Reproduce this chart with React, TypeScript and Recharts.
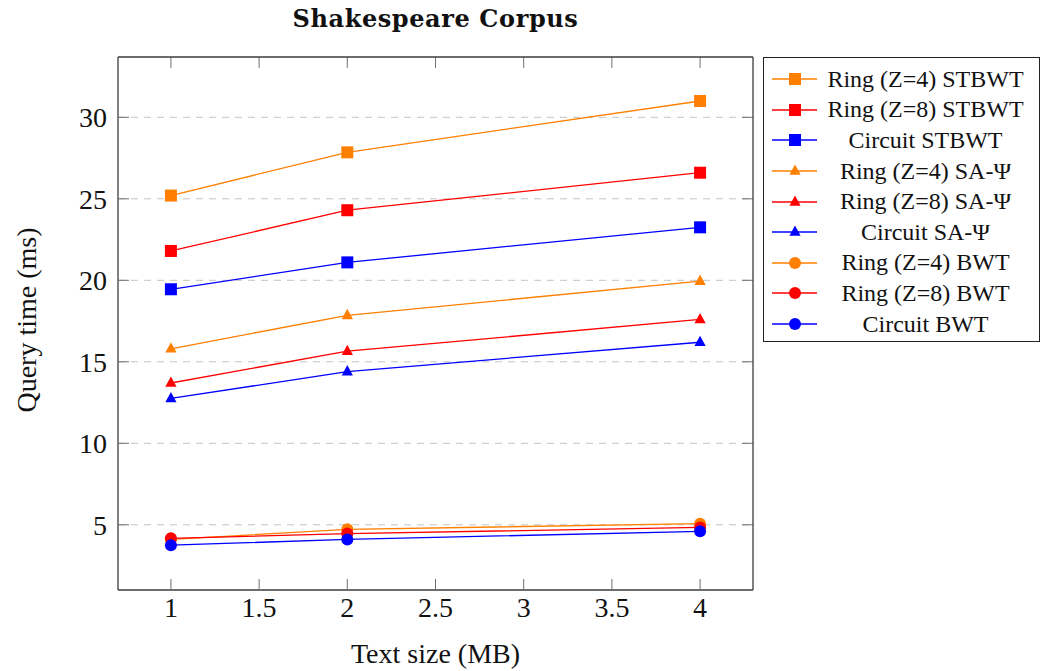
import { LineChart, Line, XAxis, YAxis, CartesianGrid, Legend, ReferenceLine } from 'recharts'

// query times (ms) per text size (MB)
const textSizes = [1, 2, 4]
const xTicks = [1, 1.5, 2, 2.5, 3, 3.5, 4]
const yTicks = [5, 10, 15, 20, 25, 30]

const ringZ4Stbwt = [25.2, 27.85, 31.0]
const ringZ8Stbwt = [21.8, 24.3, 26.6]
const circuitStbwt = [19.45, 21.1, 23.25]
const ringZ4SaPsi = [15.8, 17.85, 19.95]
const ringZ8SaPsi = [13.7, 15.65, 17.6]
const circuitSaPsi = [12.75, 14.4, 16.2]
const ringZ4Bwt = [4.1, 4.72, 5.07]
const ringZ8Bwt = [4.17, 4.46, 4.84]
const circuitBwt = [3.75, 4.1, 4.6]

type Shape = 'square' | 'triangle' | 'circle'

const ORANGE = '#ff7f00'
const RED = '#ff0000'
const BLUE = '#0000ff'

const series: { key: string; name: string; color: string; shape: Shape; values: number[] }[] = [
  { key: 'r4stbwt', name: 'Ring (Z=4) STBWT', color: ORANGE, shape: 'square', values: ringZ4Stbwt },
  { key: 'r8stbwt', name: 'Ring (Z=8) STBWT', color: RED, shape: 'square', values: ringZ8Stbwt },
  { key: 'cstbwt', name: 'Circuit STBWT', color: BLUE, shape: 'square', values: circuitStbwt },
  { key: 'r4sa', name: 'Ring (Z=4) SA-Ψ', color: ORANGE, shape: 'triangle', values: ringZ4SaPsi },
  { key: 'r8sa', name: 'Ring (Z=8) SA-Ψ', color: RED, shape: 'triangle', values: ringZ8SaPsi },
  { key: 'csa', name: 'Circuit SA-Ψ', color: BLUE, shape: 'triangle', values: circuitSaPsi },
  { key: 'r4bwt', name: 'Ring (Z=4) BWT', color: ORANGE, shape: 'circle', values: ringZ4Bwt },
  { key: 'r8bwt', name: 'Ring (Z=8) BWT', color: RED, shape: 'circle', values: ringZ8Bwt },
  { key: 'cbwt', name: 'Circuit BWT', color: BLUE, shape: 'circle', values: circuitBwt },
]

const data = textSizes.map((x, i) => {
  const row: Record<string, number> = { x }
  series.forEach((s) => {
    row[s.key] = s.values[i]
  })
  return row
})

const FONT = '"Liberation Serif", "Times New Roman", serif'
const AXIS = '#3c3c3c'
const TICK = '#707070'
const X_DOMAIN: [number, number] = [0.7, 4.3]
const Y_DOMAIN: [number, number] = [1, 33.7]
// inner tick length on the mirrored (top / right) sides, in axis units (~11px)
const TOP_TICK = 0.67
const RIGHT_TICK = 0.062

function Marker({ shape, color, cx, cy }: { shape: Shape; color: string; cx: number; cy: number }) {
  if (shape === 'square') {
    return <rect x={cx - 6} y={cy - 6} width={12} height={12} fill={color} />
  }
  if (shape === 'triangle') {
    return (
      <polygon
        points={`${cx},${cy - 6.5} ${cx - 5.6},${cy + 3.8} ${cx + 5.6},${cy + 3.8}`}
        fill={color}
      />
    )
  }
  return <circle cx={cx} cy={cy} r={6} fill={color} />
}

function makeDot(shape: Shape, color: string) {
  return (props: any) => {
    const { cx, cy, index } = props
    if (cx == null || cy == null) return <g key={`d-${index}`} />
    return (
      <g key={`d-${index}`}>
        <Marker shape={shape} color={color} cx={cx} cy={cy} />
      </g>
    )
  }
}

function LegendBox() {
  return (
    <div
      style={{
        width: 277,
        height: 285,
        boxSizing: 'border-box',
        border: '1px solid #222',
        background: '#fff',
        paddingTop: 6,
        fontFamily: FONT,
      }}
    >
      {series.map((s) => (
        <div key={s.key} style={{ display: 'flex', alignItems: 'center', height: 30.6 }}>
          <svg width={58} height={30} style={{ flex: 'none' }}>
            <line x1={8} x2={53} y1={15} y2={15} stroke={s.color} strokeWidth={1.3} />
            <Marker shape={s.shape} color={s.color} cx={31} cy={15} />
          </svg>
          <span style={{ width: 207, textAlign: 'center', fontSize: 24, color: '#111', whiteSpace: 'nowrap' }}>
            {s.name}
          </span>
        </div>
      ))}
    </div>
  )
}

export default function App() {
  return (
    <div
      style={{
        position: 'absolute',
        left: 0,
        top: 0,
        width: 1041,
        height: 671,
        background: '#fff',
        fontFamily: FONT,
      }}
    >
      <div
        style={{
          position: 'absolute',
          left: 118,
          width: 635,
          top: 4,
          textAlign: 'center',
          fontFamily: '"DejaVu Serif", serif',
          fontWeight: 'bold',
          fontSize: 24,
          letterSpacing: 0.6,
          lineHeight: '30px',
          color: '#111',
        }}
      >
        Shakespeare Corpus
      </div>
      <div
        style={{
          position: 'absolute',
          left: 27,
          top: 320,
          transform: 'translate(-50%, -50%) rotate(-90deg)',
          fontSize: 28,
          lineHeight: '28px',
          whiteSpace: 'nowrap',
          color: '#111',
        }}
      >
        Query time (ms)
      </div>
      <LineChart
        width={1041}
        height={671}
        data={data}
        margin={{ top: 57, right: 288, bottom: 0, left: 0 }}
      >
        <CartesianGrid vertical={false} horizontalValues={yTicks} stroke="#c4c4c4" strokeDasharray="7 6" />
        <XAxis
          dataKey="x"
          type="number"
          domain={X_DOMAIN}
          ticks={xTicks}
          allowDataOverflow
          height={81}
          tickSize={-11}
          tickMargin={18}
          tickLine={{ stroke: TICK }}
          axisLine={{ stroke: AXIS, strokeWidth: 1.3 }}
          tick={{ fontSize: 28, fill: '#111' }}
          label={{ value: 'Text size (MB)', position: 'insideBottom', offset: 8, fontSize: 28, fill: '#111' }}
        />
        <YAxis
          type="number"
          domain={Y_DOMAIN}
          ticks={yTicks}
          allowDataOverflow
          width={118}
          tickSize={-11}
          tickMargin={22}
          tickLine={{ stroke: TICK }}
          axisLine={{ stroke: AXIS, strokeWidth: 1.3 }}
          tick={{ fontSize: 28, fill: '#111' }}
        />
        {xTicks.map((t) => (
          <ReferenceLine
            key={`tt-${t}`}
            segment={[
              { x: t, y: Y_DOMAIN[1] },
              { x: t, y: Y_DOMAIN[1] - TOP_TICK },
            ]}
            stroke={TICK}
            ifOverflow="visible"
          />
        ))}
        {yTicks.map((t) => (
          <ReferenceLine
            key={`rt-${t}`}
            segment={[
              { x: X_DOMAIN[1], y: t },
              { x: X_DOMAIN[1] - RIGHT_TICK, y: t },
            ]}
            stroke={TICK}
            ifOverflow="visible"
          />
        ))}
        {/* top and right sides of the axis box */}
        <ReferenceLine y={Y_DOMAIN[1]} stroke={AXIS} strokeWidth={1.3} ifOverflow="visible" />
        <ReferenceLine x={X_DOMAIN[1]} stroke={AXIS} strokeWidth={1.3} ifOverflow="visible" />
        <Legend
          layout="vertical"
          align="center"
          verticalAlign="middle"
          wrapperStyle={{ left: 763, top: 57, width: 277, height: 285 }}
          content={() => <LegendBox />}
        />
        {series.map((s) => (
          <Line
            key={s.key}
            dataKey={s.key}
            name={s.name}
            type="linear"
            stroke={s.color}
            strokeWidth={1.3}
            dot={makeDot(s.shape, s.color)}
            activeDot={false}
            isAnimationActive={false}
          />
        ))}
      </LineChart>
    </div>
  )
}
